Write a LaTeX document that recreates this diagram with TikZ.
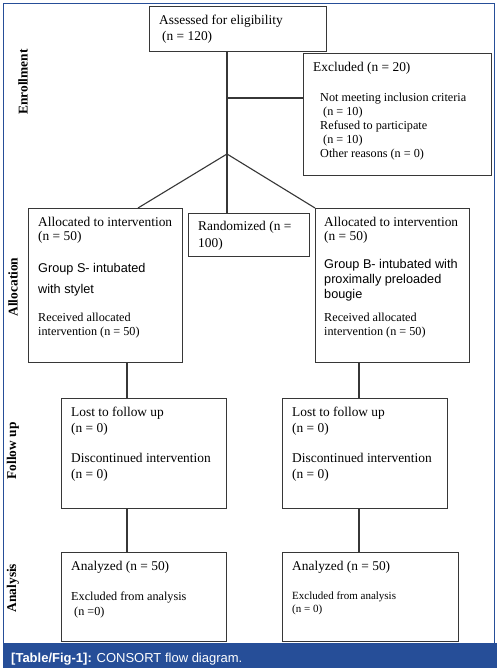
\documentclass[tikz,border=0pt]{standalone}
\usepackage{fontspec}
\setmainfont{Liberation Serif}
\newfontfamily\arialf{Liberation Sans}
\definecolor{frameblue}{RGB}{38,78,152}
\definecolor{boxc}{RGB}{55,55,55}
\newcommand\tline[1]{\hbox{#1}}
\begin{document}
\begin{tikzpicture}[x=1pt,y=-1pt,
  box/.style={draw=boxc, line width=1.1pt, inner sep=0pt, anchor=north west},
  lbl/.style={anchor=base west, inner sep=0pt, text=black},
  big/.style={font=\fontsize{13.4}{16}\selectfont},
  mid/.style={font=\fontsize{12.2}{14.5}\selectfont},
  sans/.style={font=\arialf\fontsize{12.7}{15}\selectfont},
  side/.style={rotate=90, inner sep=0pt, font=\bfseries\fontsize{13.4}{16}\selectfont},
  conn/.style={draw=boxc, line width=1.1pt}]
\fill[white] (0,0) rectangle (500,671);
\useasboundingbox (0,0) rectangle (500,671);
% frame and caption bar
\draw[frameblue, line width=1pt] (3.5,3.5) rectangle (494.5,643);
\fill[frameblue] (3,643) rectangle (497,668);
\node[anchor=base west, inner sep=0pt, text=white, font=\arialf\fontsize{13}{14}\selectfont] (cap) at (11,662) {\textbf{[Table/Fig-1]:} CONSORT flow diagram.};
% side labels
\node[side] (sEnr) at (23,82) {Enrollment};
\node[side] (sAll) at (13,287) {Allocation};
\node[side] (sFol) at (13,451) {Follow up};
\node[side] (sAna) at (13,588) {Analysis};
% boxes
\node[box, minimum width=177pt, minimum height=45pt] (assess) at (149,6) {};
\node[box, minimum width=188pt, minimum height=122pt] (excl) at (303,53) {};
\node[box, minimum width=121pt, minimum height=43pt] (rand) at (188,213) {};
\node[box, minimum width=154pt, minimum height=154pt] (allocL) at (28,208) {};
\node[box, minimum width=154pt, minimum height=154pt] (allocR) at (315,208) {};
\node[box, minimum width=165pt, minimum height=110pt] (lostL) at (61,398) {};
\node[box, minimum width=165pt, minimum height=110pt] (lostR) at (282,398) {};
\node[box, minimum width=165pt, minimum height=89pt] (anL) at (61,552) {};
\node[box, minimum width=176pt, minimum height=89pt] (anR) at (282,552) {};
% texts
\node[lbl, big] (tAs) at (159,25) {\vtop{\tline{Assessed for eligibility}\tline{\hspace{3pt}(n = 120)}}};
\node[lbl, big] (tEx1) at (313,72) {Excluded (n = 20)};
\node[lbl, font=\fontsize{12.2}{14.1}\selectfont] (tEx2) at (320,101.5) {\vtop{\tline{Not meeting inclusion criteria}\tline{\hspace{3pt}(n = 10)}\tline{Refused to participate}\tline{\hspace{3pt}(n = 10)}\tline{Other reasons (n = 0)}}};
\node[lbl, font=\fontsize{13.4}{16.5}\selectfont] (tRa) at (198,230.5) {\vtop{\tline{Randomized (n =}\tline{100)}}};
\node[lbl, font=\fontsize{13.4}{14.5}\selectfont] (tAL1) at (38,226) {\vtop{\tline{Allocated to intervention}\tline{(n = 50)}}};
\node[lbl, font=\arialf\fontsize{12.7}{20.5}\selectfont] (tAL2) at (38,272.5) {\vtop{\tline{Group S- intubated}\tline{with stylet}}};
\node[lbl, mid] (tAL3) at (38,321) {\vtop{\tline{Received allocated}\tline{intervention (n = 50)}}};
\node[lbl, font=\fontsize{13.4}{14.5}\selectfont] (tAR1) at (324,226) {\vtop{\tline{Allocated to intervention}\tline{(n = 50)}}};
\node[lbl, sans] (tAR2) at (324,268) {\vtop{\tline{Group B- intubated with}\tline{proximally preloaded}\tline{bougie}}};
\node[lbl, mid] (tAR3) at (324,321) {\vtop{\tline{Received allocated}\tline{intervention (n = 50)}}};
\node[lbl, big] (tLL1) at (71,416) {\vtop{\tline{Lost to follow up}\tline{(n = 0)}}};
\node[lbl, big] (tLL2) at (71,462) {\vtop{\tline{Discontinued intervention}\tline{(n = 0)}}};
\node[lbl, big] (tLR1) at (292,416) {\vtop{\tline{Lost to follow up}\tline{(n = 0)}}};
\node[lbl, big] (tLR2) at (292,462) {\vtop{\tline{Discontinued intervention}\tline{(n = 0)}}};
\node[lbl, big] (tNL1) at (71,570.5) {Analyzed (n = 50)};
\node[lbl, font=\fontsize{12.2}{15.5}\selectfont] (tNL2) at (71,600) {\vtop{\tline{Excluded from analysis}\tline{\hspace{3pt}(n =0)}}};
\node[lbl, big] (tNR1) at (292,570.5) {Analyzed (n = 50)};
\node[lbl, font=\fontsize{11}{13}\selectfont] (tNR2) at (292,599) {\vtop{\tline{Excluded from analysis}\tline{(n = 0)}}};
% connectors
\coordinate (aTop) at (227,51);
\coordinate (exj) at (227,98);
\coordinate (sp) at (227,154);
\coordinate (aLt) at (138,208);
\coordinate (cL) at (127,362);
\coordinate (cR) at (359,362);
\coordinate (cL2) at (127,508);
\coordinate (cR2) at (359,508);
\draw[conn] (aTop) -- (aTop |- rand.north);
\draw[conn] (exj) -- (exj -| excl.west);
\draw[conn] (sp) -- (aLt);
\draw[conn] (sp) -- (allocR.north west);
\draw[conn] (cL) -- (cL |- lostL.north);
\draw[conn] (cR) -- (cR |- lostR.north);
\draw[conn] (cL2) -- (cL2 |- anL.north);
\draw[conn] (cR2) -- (cR2 |- anR.north);
\end{tikzpicture}
\end{document}
